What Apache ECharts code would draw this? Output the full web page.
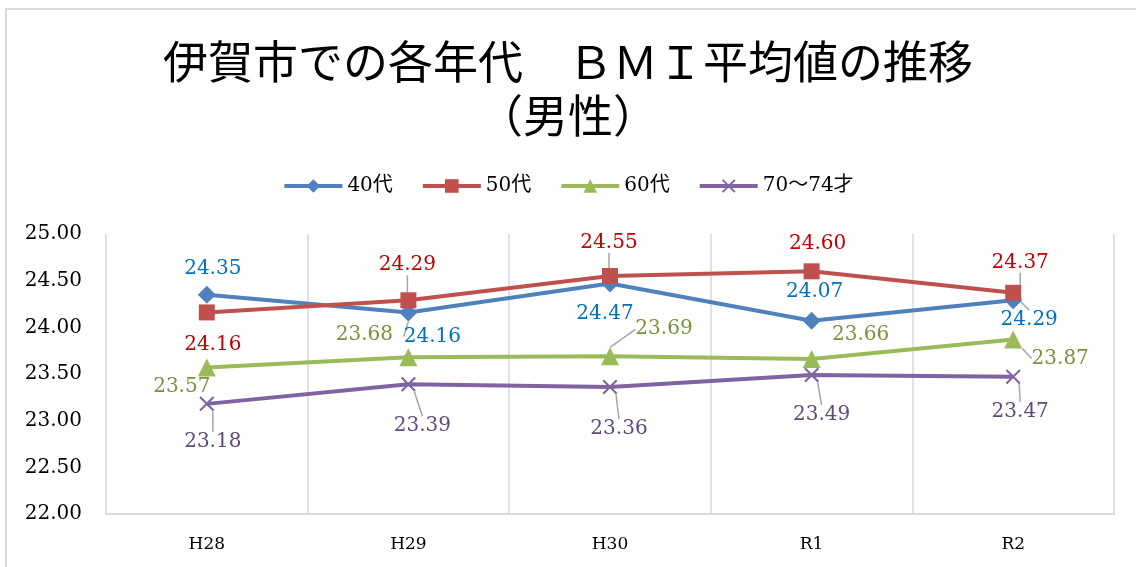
<!doctype html>
<html>
<head>
<meta charset="utf-8">
<title>BMI</title>
<script src="https://cdn.jsdelivr.net/npm/echarts@6/dist/echarts.min.js"></script>
<style>
  body { margin: 0; background: #fff; }
  #frame { position: absolute; left: 5px; top: 8px; width: 1131px; height: 559px;
           border-left: 2px solid #d9d9d9; border-top: 2px solid #d9d9d9; box-sizing: border-box; }
  #chart { position: absolute; left: 0; top: 0; width: 1136px; height: 567px; }
</style>
</head>
<body>
<div id="frame"></div>
<div id="chart"></div>
<script type="text/javascript">

    var categories = ['H28', 'H29', 'H30', 'R1', 'R2'];
    var seriesNames = ['40代', '50代', '60代', '70～74才'];
    var v40 = [24.35, 24.16, 24.47, 24.07, 24.29];
    var v50 = [24.16, 24.29, 24.55, 24.60, 24.37];
    var v60 = [23.57, 23.68, 23.69, 23.66, 23.87];
    var v70 = [23.18, 23.39, 23.36, 23.49, 23.47];

    // label offset from the marker centre, and whether a leader line is drawn
    var off40 = [[6, -26], [24, 24], [-5, 30], [3, -29], [16, 20]];
    var off50 = [[6, 32], [-1, -35], [-1, -33], [6, -28], [7, -30]];
    var off60 = [[-25, 19], [-44, -22], [54, -27], [49, -24], [47, 19]];
    var off70 = [[6, 38], [14, 42], [9, 42], [10, 40], [7, 35]];
    var lead40 = [false, true, false, false, true];
    var lead50 = [false, true, true, false, true];
    var lead60 = [false, false, true, false, true];
    var lead70 = [true, true, true, true, true];

    var numFont = '"DejaVu Serif", "Liberation Serif", "Noto Sans CJK JP", serif';
    var crossPath = 'path://M0,1L1,0L5,4L9,0L10,1L6,5L10,9L9,10L5,6L1,10L0,9L4,5Z';

    function makeSeries(name, values, lineColor, labelColor, symbol, size, offs, leads) {
        return {
            name: name,
            type: 'line',
            data: values.map(function (v, i) {
                return { value: v, labelLine: { show: leads[i] } };
            }),
            symbol: symbol,
            symbolSize: size,
            lineStyle: { color: lineColor, width: 4 },
            itemStyle: { color: lineColor },
            label: {
                show: true,
                position: 'top',
                color: labelColor,
                fontFamily: numFont,
                fontSize: 20,
                formatter: function (p) { return p.value.toFixed(2); }
            },
            labelLine: { show: true, lineStyle: { color: '#a6a6a6', width: 1.5 } },
            labelLayout: function (p) {
                var o = offs[p.dataIndex];
                return {
                    x: p.rect.x + p.rect.width / 2 + o[0],
                    y: p.rect.y + p.rect.height / 2 + o[1],
                    align: 'center',
                    verticalAlign: 'middle'
                };
            },
            emphasis: { disabled: true },
            z: 3
        };
    }

    var myChart = echarts.init(document.getElementById('chart'));

    var option = {
        animation: false,
        title: {
            text: '伊賀市での各年代　ＢＭＩ平均値の推移\n（男性）',
            left: 'center',
            top: 30,
            textStyle: {
                fontFamily: '"Noto Sans CJK JP", sans-serif',
                fontWeight: 'normal',
                fontSize: 45,
                lineHeight: 54,
                color: '#000'
            }
        },
        legend: {
            top: 171,
            left: 'center',
            itemWidth: 58,
            itemHeight: 17,
            itemGap: 28,
            lineStyle: { width: 4 },
            textStyle: { fontFamily: numFont, fontSize: 20, color: '#000' },
            data: seriesNames
        },
        grid: { left: 106, right: 22, top: 234, bottom: 53 },
        xAxis: {
            type: 'category',
            data: categories,
            boundaryGap: true,
            axisLine: { lineStyle: { color: '#d9d9d9', width: 2 } },
            axisTick: { show: false },
            axisLabel: { color: '#000', fontFamily: numFont, fontSize: 17, margin: 22 },
            splitLine: { show: true, lineStyle: { color: '#d9d9d9', width: 1.5 } }
        },
        yAxis: {
            type: 'value',
            min: 22,
            max: 25,
            interval: 0.5,
            axisLine: { show: false },
            axisTick: { show: false },
            splitLine: { show: false },
            axisLabel: {
                color: '#000',
                fontFamily: numFont,
                fontSize: 20,
                margin: 24,
                formatter: function (v) { return v.toFixed(2); }
            }
        },
        series: [
            makeSeries(seriesNames[0], v40, '#4f81bd', '#0070c0', 'diamond', 18, off40, lead40),
            makeSeries(seriesNames[1], v50, '#c0504d', '#c00000', 'rect', 16, off50, lead50),
            makeSeries(seriesNames[2], v60, '#9bbb59', '#77933c', 'triangle', 18, off60, lead60),
            makeSeries(seriesNames[3], v70, '#8064a2', '#604a7b', crossPath, 15, off70, lead70)
        ]
    };

    myChart.setOption(option);

</script>
</body>
</html>
